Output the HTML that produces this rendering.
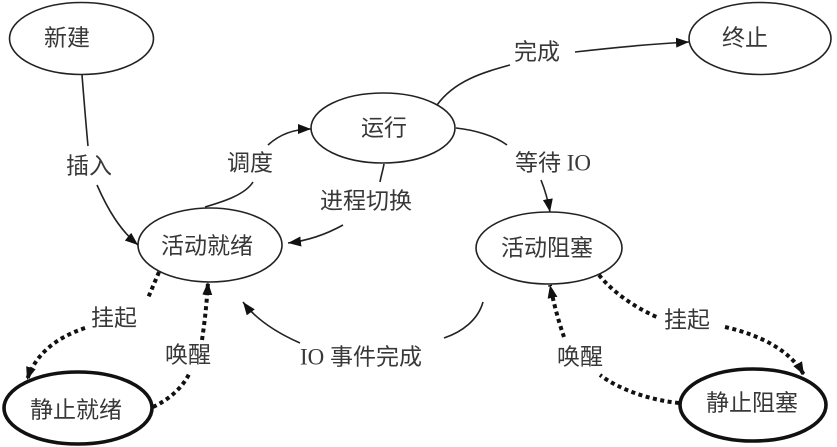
<!DOCTYPE html>
<html>
<head>
<meta charset="utf-8">
<style>
  html, body { margin: 0; padding: 0; background: #fff; }
  svg { display: block; }
  text {
    font-family: "Liberation Serif", "Noto Sans CJK SC", sans-serif;
    font-size: 23px;
    fill: #383838;
    text-anchor: middle;
    dominant-baseline: central;
  }
  .node { fill: #fff; stroke: #222; stroke-width: 1.6; }
  .thick { fill: #fff; stroke: #111; stroke-width: 3.6; }
  .edge { fill: none; stroke: #222; stroke-width: 1.6; }
  .dot { fill: none; stroke: #111; stroke-width: 4; stroke-dasharray: 4 3.5; }
</style>
</head>
<body>
<svg width="837" height="447" viewBox="0 0 837 447" xmlns="http://www.w3.org/2000/svg">
  <defs>
    <marker id="ah" markerUnits="userSpaceOnUse" markerWidth="14" markerHeight="12" refX="13" refY="5" orient="auto">
      <path d="M0,0 L13,5 L0,10 z" fill="#111"/>
    </marker>
  </defs>

  <!-- Nodes -->
  <ellipse class="node" cx="81.5" cy="38.5" rx="72" ry="36"/>
  <text x="67" y="38">新建</text>

  <ellipse class="node" cx="383" cy="128" rx="72" ry="35"/>
  <text x="384" y="128">运行</text>

  <ellipse class="node" cx="760" cy="38.5" rx="71" ry="36"/>
  <text x="745" y="38">终止</text>

  <ellipse class="node" cx="210" cy="245" rx="72" ry="37"/>
  <text x="207" y="246">活动就绪</text>

  <ellipse class="node" cx="549" cy="248" rx="73" ry="36"/>
  <text x="547" y="248">活动阻塞</text>

  <ellipse class="thick" cx="78" cy="408" rx="74" ry="36"/>
  <text x="76" y="410">静止就绪</text>

  <ellipse class="thick" cx="753" cy="405" rx="73" ry="36"/>
  <text x="752" y="403">静止阻塞</text>

  <!-- 新建 -> 活动就绪 (插入) -->
  <path class="edge" d="M82,75 C84,100 86,125 88,146"/>
  <path class="edge" d="M97,185 C108,210 120,230 138,245" marker-end="url(#ah)"/>
  <text x="89" y="166">插入</text>

  <!-- 活动就绪 -> 运行 (调度) -->
  <path class="edge" d="M205,207 C222,202 245,195 253,182"/>
  <path class="edge" d="M268,145 C280,134 295,129 311,129" marker-end="url(#ah)"/>
  <text x="250" y="163">调度</text>

  <!-- 运行 -> 活动就绪 (进程切换) -->
  <path class="edge" d="M384,164 C383,170 381,176 380,182"/>
  <path class="edge" d="M343,225 C325,235 305,241 288,243" marker-end="url(#ah)"/>
  <text x="366" y="201">进程切换</text>

  <!-- 运行 -> 终止 (完成) -->
  <path class="edge" d="M437,105 C455,80 485,72 510,65"/>
  <path class="edge" d="M575,52 C610,48 650,44 689,42" marker-end="url(#ah)"/>
  <text x="537" y="52">完成</text>

  <!-- 运行 -> 活动阻塞 (等待 IO) -->
  <path class="edge" d="M456,128 C475,130 495,136 507,145"/>
  <path class="edge" d="M541,180 C545,190 548,200 550,212" marker-end="url(#ah)"/>
  <text x="553" y="163">等待 IO</text>

  <!-- 活动阻塞 -> 活动就绪 (IO 事件完成) -->
  <path class="edge" d="M483,302 C478,320 462,332 444,338"/>
  <path class="edge" d="M300,343 C275,332 255,318 243,302" marker-end="url(#ah)"/>
  <text x="361" y="357">IO 事件完成</text>

  <!-- 活动就绪 -> 静止就绪 (挂起) -->
  <path class="dot" d="M159,272 L148,298"/>
  <path class="dot" d="M85,328 C55,338 35,355 27,380" marker-end="url(#ah)"/>
  <text x="114" y="318">挂起</text>

  <!-- 静止就绪 -> 活动就绪 (唤醒) -->
  <path class="dot" d="M153,407 C168,400 183,388 190,372"/>
  <path class="dot" d="M202,340 C205,320 207,300 208,282" marker-end="url(#ah)"/>
  <text x="188" y="355">唤醒</text>

  <!-- 活动阻塞 -> 静止阻塞 (挂起) -->
  <path class="dot" d="M599,275 C615,295 640,310 659,318"/>
  <path class="dot" d="M725,327 C760,335 790,350 804,375" marker-end="url(#ah)"/>
  <text x="687" y="320">挂起</text>

  <!-- 静止阻塞 -> 活动阻塞 (唤醒) -->
  <path class="dot" d="M679,403 C650,400 620,390 600,375"/>
  <path class="dot" d="M564,337 C558,320 553,300 550,285" marker-end="url(#ah)"/>
  <text x="580" y="357">唤醒</text>
</svg>
</body>
</html>
